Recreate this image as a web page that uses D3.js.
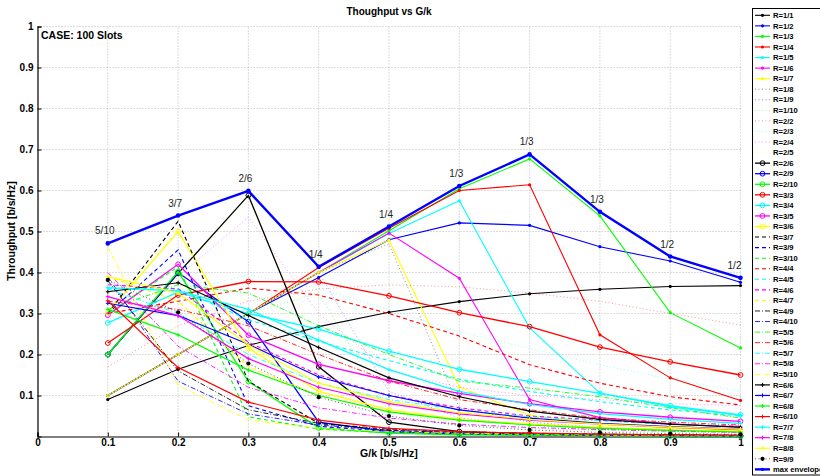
<!DOCTYPE html>
<html><head><meta charset="utf-8">
<script src="https://cdn.jsdelivr.net/npm/d3@7/dist/d3.min.js"></script>
<style>
body{margin:0;background:#fff}
svg{display:block}
text{font-family:"Liberation Sans",Arial,Helvetica,sans-serif}
</style>
</head><body>
<svg id="chart" width="820" height="476"></svg>
<script>
// ---------- data ----------
const G = [0.1,0.2,0.3,0.4,0.5,0.6,0.7,0.8,0.9,1.0];
const xTicks = [0,0.1,0.2,0.3,0.4,0.5,0.6,0.7,0.8,0.9,1];
const yTicks = [0.1,0.2,0.3,0.4,0.5,0.6,0.7,0.8,0.9,1];

const seriesNames = ["R=1/1","R=1/2","R=1/3","R=1/4","R=1/5","R=1/6","R=1/7",
 "R=1/8","R=1/9","R=1/10","R=2/2","R=2/3","R=2/4","R=2/5",
 "R=2/6","R=2/9","R=2/10","R=3/3","R=3/4","R=3/5","R=3/6",
 "R=3/7","R=3/9","R=3/10","R=4/4","R=4/5","R=4/6","R=4/7",
 "R=4/9","R=4/10","R=5/5","R=5/6","R=5/7","R=5/8","R=5/10",
 "R=6/6","R=6/7","R=6/8","R=6/10","R=7/7","R=7/8","R=8/8","R=9/9"];

const R1_1 = [0.090,0.164,0.222,0.268,0.303,0.329,0.348,0.359,0.366,0.368];
const R1_2 = [0.100,0.200,0.300,0.388,0.480,0.521,0.515,0.463,0.428,0.376];
const R1_3 = [0.100,0.200,0.300,0.400,0.502,0.604,0.677,0.538,0.302,0.216];
const R1_4 = [0.100,0.200,0.300,0.412,0.508,0.600,0.614,0.248,0.143,0.088];
const R1_5 = [0.100,0.200,0.300,0.400,0.495,0.575,0.265,0.106,0.072,0.052];
const R1_6 = [0.100,0.200,0.300,0.400,0.496,0.386,0.090,0.046,0.031,0.022];
const R1_7 = [0.100,0.200,0.300,0.400,0.479,0.121,0.052,0.032,0.022,0.016];
const R1_8 = [0.100,0.200,0.300,0.400,0.470,0.070,0.035,0.022,0.015,0.011];
const R1_9 = [0.100,0.200,0.300,0.400,0.110,0.045,0.028,0.018,0.013,0.010];
const R1_10 = [0.100,0.200,0.300,0.350,0.060,0.030,0.020,0.014,0.010,0.008];
const R2_2 = [0.170,0.270,0.330,0.360,0.370,0.365,0.350,0.330,0.300,0.272];
const R2_3 = [0.190,0.350,0.395,0.360,0.310,0.255,0.215,0.175,0.140,0.110];
const R2_4 = [0.200,0.390,0.535,0.300,0.160,0.120,0.100,0.090,0.080,0.075];
const R2_5 = [0.200,0.400,0.575,0.220,0.070,0.040,0.028,0.020,0.015,0.012];
const R2_6 = [0.200,0.398,0.588,0.170,0.035,0.012,0.006,0.004,0.003,0.002];
const R2_9 = [0.200,0.400,0.280,0.035,0.012,0.006,0.004,0.003,0.002,0.001];
const R2_10 = [0.200,0.402,0.134,0.021,0.008,0.004,0.003,0.002,0.001,0.001];
const R3_3 = [0.228,0.345,0.378,0.377,0.343,0.302,0.268,0.218,0.182,0.150];
const R3_4 = [0.277,0.352,0.300,0.262,0.208,0.164,0.134,0.105,0.075,0.053];
const R3_5 = [0.296,0.420,0.247,0.176,0.136,0.105,0.080,0.060,0.047,0.037];
const R3_6 = [0.302,0.500,0.215,0.110,0.065,0.042,0.030,0.022,0.017,0.013];
const R3_7 = [0.300,0.525,0.135,0.032,0.015,0.009,0.006,0.004,0.003,0.002];
const R3_9 = [0.300,0.455,0.075,0.025,0.012,0.007,0.005,0.003,0.002,0.002];
const R3_10 = [0.300,0.414,0.048,0.018,0.009,0.006,0.004,0.003,0.002,0.001];
const R4_4 = [0.300,0.330,0.362,0.345,0.300,0.245,0.175,0.130,0.097,0.077];
const R4_5 = [0.360,0.360,0.285,0.232,0.185,0.140,0.110,0.085,0.065,0.050];
const R4_6 = [0.370,0.360,0.230,0.150,0.100,0.070,0.050,0.040,0.030,0.025];
const R4_7 = [0.390,0.330,0.170,0.100,0.060,0.040,0.030,0.020,0.015,0.012];
const R4_9 = [0.380,0.160,0.065,0.032,0.018,0.012,0.008,0.006,0.004,0.003];
const R4_10 = [0.390,0.135,0.055,0.028,0.015,0.010,0.007,0.005,0.004,0.003];
const R5_5 = [0.310,0.370,0.350,0.270,0.200,0.135,0.118,0.097,0.070,0.045];
const R5_6 = [0.330,0.310,0.270,0.200,0.135,0.090,0.065,0.045,0.035,0.028];
const R5_7 = [0.360,0.300,0.200,0.130,0.090,0.065,0.048,0.038,0.030,0.024];
const R5_8 = [0.400,0.220,0.120,0.070,0.045,0.030,0.022,0.017,0.013,0.010];
const R5_10 = [0.462,0.125,0.040,0.020,0.012,0.008,0.006,0.004,0.003,0.002];
const R6_6 = [0.353,0.375,0.295,0.217,0.143,0.097,0.062,0.042,0.030,0.023];
const R6_7 = [0.325,0.295,0.225,0.145,0.100,0.065,0.045,0.032,0.024,0.018];
const R6_8 = [0.310,0.248,0.162,0.100,0.060,0.040,0.028,0.020,0.015,0.011];
const R6_10 = [0.331,0.168,0.084,0.040,0.020,0.012,0.008,0.006,0.004,0.003];
const R7_7 = [0.363,0.355,0.310,0.235,0.163,0.110,0.078,0.056,0.042,0.032];
const R7_8 = [0.341,0.295,0.190,0.120,0.080,0.055,0.040,0.030,0.022,0.017];
const R8_8 = [0.390,0.350,0.223,0.130,0.085,0.058,0.042,0.030,0.023,0.018];
const R9_9 = [0.382,0.303,0.178,0.096,0.050,0.027,0.016,0.010,0.007,0.005];

const envelope = [0.471,0.539,0.599,0.414,0.512,0.611,0.688,0.548,0.439,0.387];
const envelopeLabels = ["5/10","3/7","2/6","1/4","1/4","1/3","1/3","1/3","1/2","1/2"];

const seriesValues = [R1_1,R1_2,R1_3,R1_4,R1_5,R1_6,R1_7,R1_8,R1_9,R1_10,R2_2,R2_3,R2_4,R2_5,
 R2_6,R2_9,R2_10,R3_3,R3_4,R3_5,R3_6,R3_7,R3_9,R3_10,R4_4,R4_5,R4_6,R4_7,
 R4_9,R4_10,R5_5,R5_6,R5_7,R5_8,R5_10,R6_6,R6_7,R6_8,R6_10,R7_7,R7_8,R8_8,R9_9];

// ---------- styles ----------
const colorCycle = ["#000000","#0000ff","#00ff00","#ff0000","#00ffff","#ff00ff","#ffff00"];
const families = [
  {dash:null, marker:"dot", w:1.1, op:1},
  {dash:"1,2.5", marker:null, w:0.8, op:0.55},
  {dash:null, marker:"o", w:1.3, op:1},
  {dash:"4,3", marker:null, w:1.1, op:1},
  {dash:"5,2,1,2", marker:null, w:1, op:0.85},
  {dash:null, marker:"plus", w:1.2, op:1},
  {dash:"1,2.5", marker:"bigdot", w:0.8, op:0.8}
];

const svg = d3.select("#chart");
const x = d3.scaleLinear().domain([0,1]).range([37.5,740.5]);
const y = d3.scaleLinear().domain([0,1]).range([436.5,26.5]);

// grid
const grid = svg.append("g");
xTicks.filter(t=>t>0).forEach(t=>{
  grid.append("line").attr("x1",x(t)).attr("x2",x(t)).attr("y1",y(0)).attr("y2",y(1))
   .attr("stroke","#aaaaaa").attr("stroke-width",0.8).attr("stroke-dasharray","1,2");
});
yTicks.forEach(t=>{
  grid.append("line").attr("x1",x(0)).attr("x2",x(1)).attr("y1",y(t)).attr("y2",y(t))
   .attr("stroke","#aaaaaa").attr("stroke-width",0.8).attr("stroke-dasharray","1,2");
});

// axes
const xAxis = d3.axisBottom(x).tickValues(xTicks).tickSize(-4).tickPadding(2)
  .tickFormat(d=>d===0?"0":(d===1?"1":d3.format(".1f")(d)));
const gx = svg.append("g").attr("transform",`translate(0,${y(0)})`).call(xAxis);
const yAxis = d3.axisLeft(y).tickValues(yTicks).tickSize(-4).tickPadding(4)
  .tickFormat(d=>d===1?"1":d3.format(".1f")(d));
const gy = svg.append("g").attr("transform",`translate(${x(0)},0)`).call(yAxis);
[gx,gy].forEach(g=>{
  g.select(".domain").attr("stroke","#000").attr("stroke-width",1.2);
  g.selectAll(".tick line").attr("stroke","#000");
  g.selectAll(".tick text").attr("fill","#000").attr("font-size","10px").attr("font-weight","bold")
   .style("font-family",'"Liberation Sans",Arial,sans-serif');
});

// series
const line = d3.line().x((d,i)=>x(G[i])).y(d=>y(d));
const plot = svg.append("g");
function drawMarker(g, cx, cy, fam, color){
  if(fam.marker==="dot"){
    g.append("circle").attr("cx",cx).attr("cy",cy).attr("r",1.6).attr("fill",color);
  } else if(fam.marker==="bigdot"){
    g.append("circle").attr("cx",cx).attr("cy",cy).attr("r",2.1).attr("fill",color);
  } else if(fam.marker==="o"){
    g.append("circle").attr("cx",cx).attr("cy",cy).attr("r",2.4).attr("fill","none")
     .attr("stroke",color).attr("stroke-width",1);
  } else if(fam.marker==="plus"){
    g.append("path").attr("d",`M${cx-2},${cy}H${cx+2}M${cx},${cy-2}V${cy+2}`)
     .attr("stroke",color).attr("stroke-width",1);
  }
}
seriesValues.forEach((vals,i)=>{
  const fam = families[Math.floor(i/7)];
  const color = colorCycle[i%7];
  const g = plot.append("g");
  g.append("path").datum(vals).attr("d",line).attr("fill","none")
   .attr("stroke",color).attr("stroke-width",fam.w).attr("stroke-opacity",fam.op)
   .attr("stroke-dasharray",fam.dash);
  vals.forEach((v,j)=>drawMarker(g,x(G[j]),y(v),fam,color));
});

// envelope
plot.append("path").datum(envelope).attr("d",line).attr("fill","none")
  .attr("stroke","#0000ff").attr("stroke-width",2.4);
envelope.forEach((v,j)=>{
  plot.append("circle").attr("cx",x(G[j])).attr("cy",y(v)).attr("r",2.3).attr("fill","#0000ff");
});
envelope.forEach((v,j)=>{
  svg.append("text").attr("x",x(G[j]) + (j===envelope.length-1?-6:-3)).attr("y",y(v)-9)
   .attr("text-anchor","middle").attr("font-size","10px").attr("fill","#222")
   .text(envelopeLabels[j]);
});

// titles
svg.append("text").attr("x",389).attr("y",15).attr("text-anchor","middle")
  .attr("font-size","10px").attr("font-weight","bold").text("Thoughput vs G/k");
svg.append("text").attr("x",389).attr("y",457).attr("text-anchor","middle")
  .attr("font-size","10.5px").attr("font-weight","bold").text("G/k [b/s/Hz]");
svg.append("text").attr("transform","translate(15,231) rotate(-90)").attr("text-anchor","middle")
  .attr("font-size","10.5px").attr("font-weight","bold").text("Throughput [b/s/Hz]");
svg.append("text").attr("x",41).attr("y",39)
  .attr("font-size","10.5px").attr("font-weight","bold").text("CASE: 100 Slots");

// legend
const lg = svg.append("g");
lg.append("rect").attr("x",752.5).attr("y",8.5).attr("width",80).attr("height",466.5)
  .attr("fill","#fff").attr("stroke","#000").attr("stroke-width",1);
const legendItems = seriesNames.map((n,i)=>({name:n, fam:families[Math.floor(i/7)], color:colorCycle[i%7]}));
legendItems.push({name:"max envelope", fam:{dash:null, marker:"dot", w:2.4, op:1}, color:"#0000ff"});
legendItems.forEach((it,i)=>{
  const cy = 15.3 + i*10.56;
  lg.append("line").attr("x1",755).attr("x2",770).attr("y1",cy).attr("y2",cy)
    .attr("stroke",it.color).attr("stroke-width",it.fam.w).attr("stroke-opacity",it.fam.op)
    .attr("stroke-dasharray",it.fam.dash);
  drawMarker(lg,762.5,cy,it.fam,it.color);
  lg.append("text").attr("x",773).attr("y",cy+2.7).attr("font-size","7.6px").attr("font-weight","bold")
    .text(it.name);
});
</script>
</body></html>
